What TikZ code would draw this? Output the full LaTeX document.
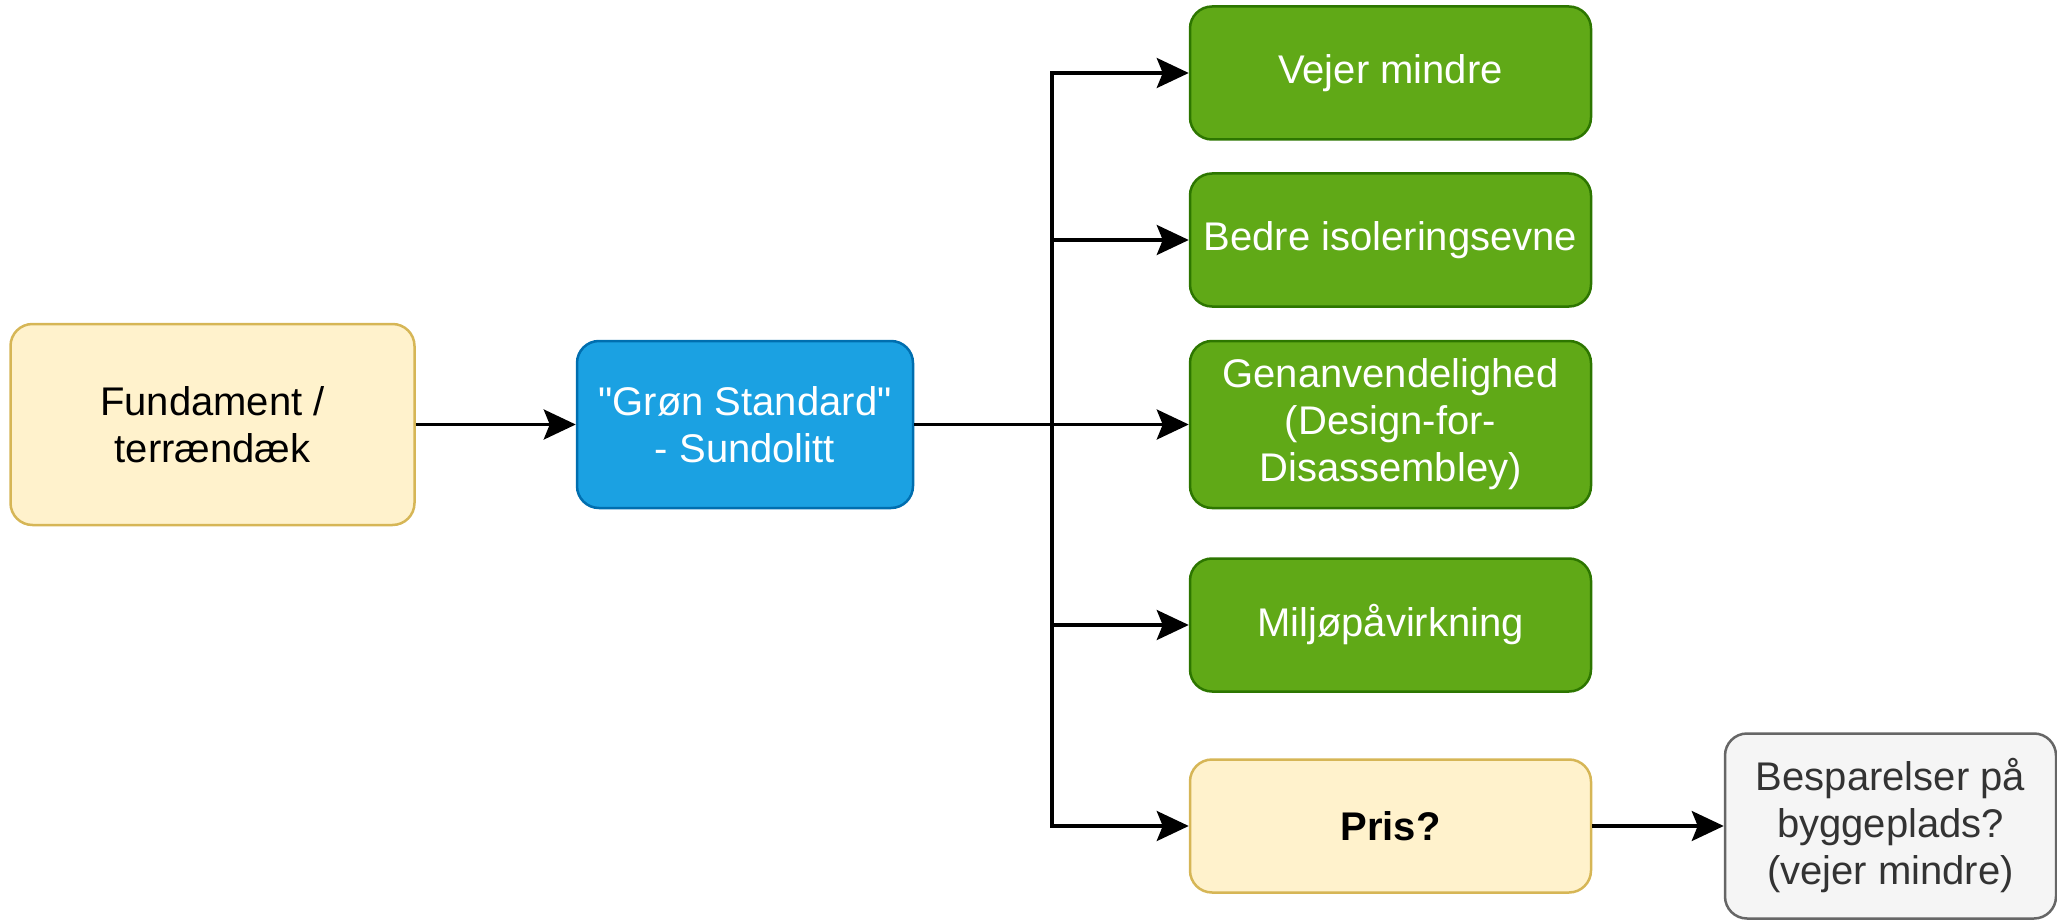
\documentclass[tikz,border=0pt]{standalone}
\usepackage{fontspec}
\setmainfont{Liberation Sans}
\newfontfamily\retfont{Liberation Sans}
\usetikzlibrary{arrows.meta}

\definecolor{gulfyld}{HTML}{FFF2CC}
\definecolor{gulkant}{HTML}{D6B656}
\definecolor{blaafyld}{HTML}{1BA1E2}
\definecolor{blaakant}{HTML}{006EAF}
\definecolor{groenfyld}{HTML}{60A917}
\definecolor{groenkant}{HTML}{2D7600}
\definecolor{graafyld}{HTML}{F5F5F5}
\definecolor{graakant}{HTML}{666666}
\definecolor{graatekst}{HTML}{333333}

\tikzset{boks/.style = {rectangle, rounded corners=22pt, line width=2.5pt,
                        align=center, inner sep=0pt, minimum height=#1,
                        font=\fontsize{40}{47}\selectfont},
         boks/.default=133pt,
         gul/.style   = {boks=#1, fill=gulfyld, draw=gulkant, minimum width=404pt},
         gul/.default=201pt,
         blaa/.style  = {boks=167pt, fill=blaafyld, draw=blaakant, text=white, minimum width=336pt},
         groen/.style = {boks=#1, fill=groenfyld, draw=groenkant, text=white, minimum width=401pt},
         groen/.default=133pt,
         graa/.style  = {boks=185pt, fill=graafyld, draw=graakant, text=graatekst, minimum width=331pt},
         pil/.style   = {line width=3.2pt, -{Stealth[length=32pt,width=30pt,inset=6pt]}}
        }

\begin{document}
\begin{tikzpicture}[x=1pt, y=-1pt]
  \useasboundingbox (0, 0) rectangle (2057, 920);
  \node[gul] (fundament) at (212.5, 424.5) {Fundament /\\terrændæk};
  \node[blaa] (standard) at (745, 424.5) {{\retfont"}Grøn Standard{\retfont"}\\- Sundolitt};
  \node[groen] (vejer) at (1390.5, 73) {Vejer mindre};
  \node[groen] (isolering) at (1390.5, 240) {Bedre isoleringsevne};
  \node[groen=167pt] (genbrug) at (1390.5, 424.5) {Genanvendelighed\\(Design-for-\\Disassembley)};
  \node[groen] (miljo) at (1390.5, 625) {Miljøpåvirkning};
  \node[gul=133pt, minimum width=401pt] (pris) at (1390.5, 826) {\textbf{Pris?}};
  \node[graa] (besparelse) at (1890.5, 826) {Besparelser på\\byggeplads?\\(vejer mindre)};
  \coordinate (gren) at (1052, 424.5);

  \draw[pil] (fundament) -- (standard);
  \draw[pil] (standard) -- (genbrug);
  \draw[pil] (gren) |- (vejer);
  \draw[pil] (gren) |- (isolering);
  \draw[pil] (gren) |- (miljo);
  \draw[pil] (gren) |- (pris);
  \draw[pil] (pris) -- (besparelse);
\end{tikzpicture}
\end{document}
